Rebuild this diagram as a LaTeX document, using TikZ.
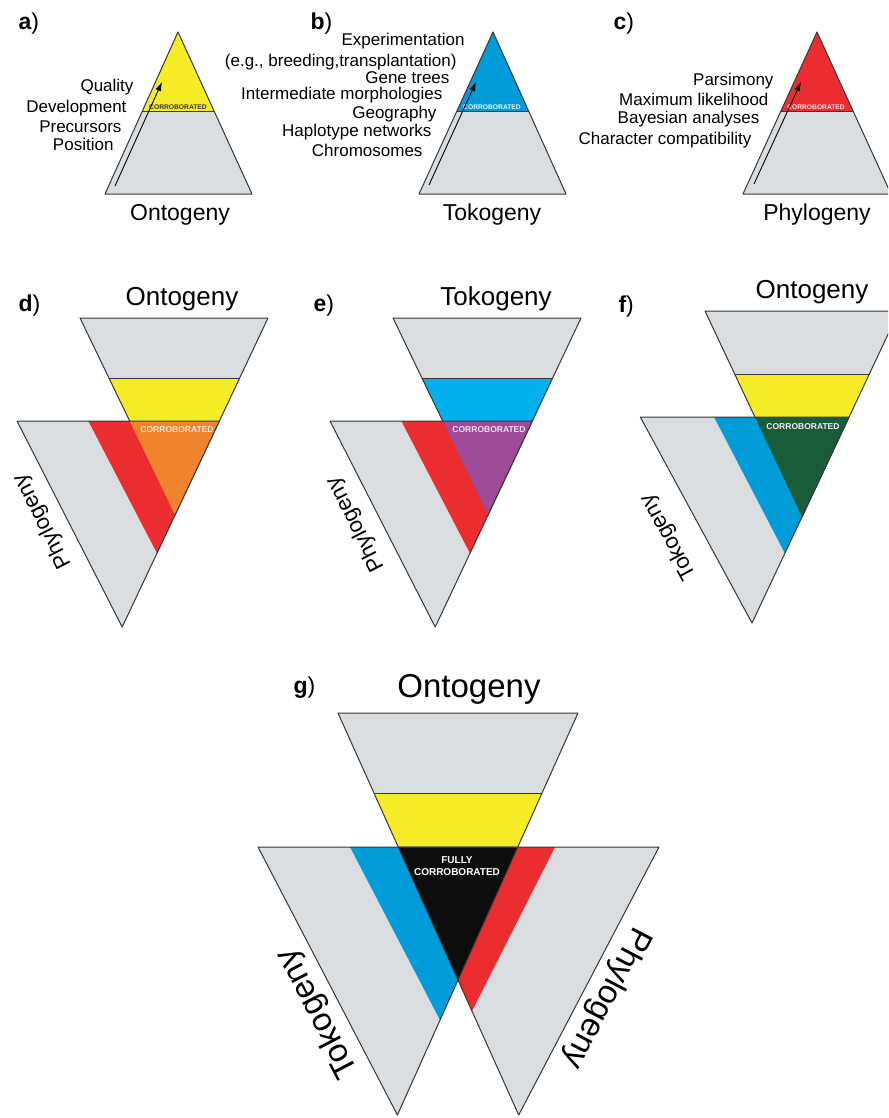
\documentclass[tikz,border=0pt]{standalone}
\usepackage{fontspec}
\setmainfont{Liberation Sans}
\usetikzlibrary{arrows.meta}

\definecolor{trigray}{RGB}{218,221,224}
\definecolor{ontoyellow}{RGB}{246,236,38}
\definecolor{tokoblue}{RGB}{0,156,218}
\definecolor{tokocyan}{RGB}{0,176,236}
\definecolor{phylored}{RGB}{236,45,47}
\definecolor{mixorange}{RGB}{240,132,46}
\definecolor{mixpurple}{RGB}{158,74,150}
\definecolor{mixgreen}{RGB}{24,92,58}
\definecolor{edgegray}{RGB}{55,55,55}

\begin{document}
\begin{tikzpicture}[x=1pt,y=-1pt,
  edge/.style={draw=edgegray,line width=1pt,line join=round},
  arr/.style={-{Latex[length=9pt,width=6pt]},line width=0.9pt,black},
  tag/.style={anchor=base west,font=\fontsize{23}{26}\selectfont},
  list/.style={anchor=base east,font=\fontsize{17}{20}\selectfont},
  toptitle/.style={anchor=base,font=\fontsize{23}{26}\selectfont},
  midtitle/.style={anchor=base,font=\fontsize{26}{30}\selectfont},
  bigtitle/.style={font=\fontsize{33}{36}\selectfont},
  corr/.style={font=\bfseries\fontsize{6.7}{8}\selectfont},
  midcorr/.style={font=\bfseries\fontsize{8.5}{10}\selectfont}]
\useasboundingbox (0,0) rectangle (888,1118);
\clip (0,0) rectangle (888,1118);

% a) ontogeny
\node[tag] (taga) at (15,30) {\textbf{a})};
\fill[trigray] (178,32) -- (252,194) -- (105,194) -- cycle;
\fill[ontoyellow] (178,32) -- (214.5,112) -- (142,112) -- cycle;
\draw[edge] (178,32) -- (252,194) -- (105,194) -- cycle;
\draw[edge] (142,112) -- (214.5,112);
\node[corr,text=black!80] (cora) at (178,107) {CORROBORATED};
\coordinate (arra0) at (115,186);
\coordinate (arra1) at (162,82);
\draw[arr] (arra0) -- (arra1);
\node[list] (qual) at (137,92) {Quality};
\node[list] (devel) at (130,113) {Development};
\node[list] (precur) at (125,133) {Precursors};
\node[list] (posit) at (117,151) {Position};
\node[toptitle] (onta) at (180,220) {Ontogeny};

% b) tokogeny
\node[tag] (tagb) at (307,30) {\textbf{b})};
\fill[trigray] (493,32) -- (566,194) -- (419,194) -- cycle;
\fill[tokoblue] (493,32) -- (529,112) -- (456.5,112) -- cycle;
\draw[edge] (493,32) -- (566,194) -- (419,194) -- cycle;
\draw[edge] (456.5,112) -- (529,112);
\node[corr,text=white!90!tokoblue] (corb) at (492,107) {CORROBORATED};
\coordinate (arrb0) at (429,185);
\coordinate (arrb1) at (476,82);
\draw[arr] (arrb0) -- (arrb1);
\node[list] (exper) at (468,46) {Experimentation};
\node[list] (breed) at (460,67) {(e.g., breeding,transplantation)};
\node[list] (genet) at (453,84) {Gene trees};
\node[list] (inter) at (446,100) {Intermediate morphologies};
\node[list] (geog) at (440,119) {Geography};
\node[list] (haplo) at (435,137) {Haplotype networks};
\node[list] (chrom) at (426,157) {Chromosomes};
\node[toptitle] (tokb) at (492,220) {Tokogeny};

% c) phylogeny
\node[tag] (tagc) at (610,30) {\textbf{c})};
\fill[trigray] (817,32) -- (891,194) -- (743,194) -- cycle;
\fill[phylored] (817,32) -- (853.5,112) -- (780.5,112) -- cycle;
\draw[edge] (817,32) -- (891,194) -- (743,194) -- cycle;
\draw[edge] (780.5,112) -- (853.5,112);
\node[corr,text=white!85!phylored] (corc) at (816,107) {CORROBORATED};
\coordinate (arrc0) at (754,184);
\coordinate (arrc1) at (801,82);
\draw[arr] (arrc0) -- (arrc1);
\node[list] (parsi) at (777,86) {Parsimony};
\node[list] (maxli) at (772,106) {Maximum likelihood};
\node[list] (bayes) at (763,124) {Bayesian analyses};
\node[list] (chara) at (755,145) {Character compatibility};
\node[toptitle] (phyc) at (817,220) {Phylogeny};

% d) ontogeny + phylogeny
\node[tag] (tagd) at (15,311) {\textbf{d})};
\node[midtitle] (ontd) at (182,305) {Ontogeny};
\fill[trigray] (80,318) -- (268,318) -- (175,515) -- cycle;
\fill[ontoyellow] (108.9,378) -- (239.7,378) -- (175,515) -- cycle;
\draw[edge] (80,318) -- (268,318) -- (175,515) -- cycle;
\draw[edge] (108.9,378) -- (239.7,378);
\fill[trigray] (17,421) -- (219.4,421) -- (122.2,627) -- cycle;
\fill[phylored] (88.3,421) -- (219.4,421) -- (157,553.3) -- cycle;
\fill[mixorange] (129.7,421) -- (219.4,421) -- (175,515) -- cycle;
\draw[edge] (17,421) -- (219.4,421) -- (122.2,627) -- cycle;
\node[midcorr,text=white!80!mixorange] (cord) at (177,430) {CORROBORATED};
\node[rotate=117,font=\fontsize{22}{24}\selectfont] (phyd) at (43,521) {Phylogeny};

% e) tokogeny + phylogeny
\node[tag] (tage) at (310,311) {\textbf{e})};
\node[midtitle] (toke) at (496,305) {Tokogeny};
\begin{scope}[xshift=313pt]
\fill[trigray] (80,318) -- (268,318) -- (175,515) -- cycle;
\fill[tokocyan] (108.9,378) -- (239.7,378) -- (175,515) -- cycle;
\draw[edge] (80,318) -- (268,318) -- (175,515) -- cycle;
\draw[edge] (108.9,378) -- (239.7,378);
\fill[trigray] (17,421) -- (219.4,421) -- (122.2,627) -- cycle;
\fill[phylored] (88.3,421) -- (219.4,421) -- (157,553.3) -- cycle;
\fill[mixpurple] (129.7,421) -- (219.4,421) -- (175,515) -- cycle;
\draw[edge] (17,421) -- (219.4,421) -- (122.2,627) -- cycle;
\end{scope}
\node[midcorr,text=white!85!mixpurple] (core) at (489,430) {CORROBORATED};
\node[rotate=117,font=\fontsize{22}{24}\selectfont] (phye) at (356,524) {Phylogeny};

% f) ontogeny + tokogeny
\node[tag] (tagf) at (615,312) {\textbf{f})};
\node[midtitle] (ontf) at (812,298) {Ontogeny};
\fill[trigray] (705,311) -- (899,311) -- (802,517) -- cycle;
\fill[ontoyellow] (734.7,374) -- (869.3,374) -- (802,517) -- cycle;
\draw[edge] (705,311) -- (899,311) -- (802,517) -- cycle;
\draw[edge] (734.7,374) -- (869.3,374);
\fill[trigray] (640.3,417) -- (849.1,417) -- (752,623) -- cycle;
\fill[tokoblue] (714,417) -- (849.1,417) -- (784.9,553.3) -- cycle;
\fill[mixgreen] (754.9,417) -- (849.1,417) -- (802,517) -- cycle;
\draw[edge] (640.3,417) -- (849.1,417) -- (752,623) -- cycle;
\node[midcorr,text=white!92!mixgreen] (corf) at (803,427) {CORROBORATED};
\node[rotate=118.5,font=\fontsize{22}{24}\selectfont] (tokf) at (669,537) {Tokogeny};

% g) all three
\node[tag] (tagg) at (290,693) {\textbf{g})};
\node[bigtitle,anchor=base] (ontg) at (469,697) {Ontogeny};
\fill[trigray] (338,713) -- (578,713) -- (458,980) -- cycle;
\fill[ontoyellow] (374,793) -- (542,793) -- (458,980) -- cycle;
\draw[edge] (338,713) -- (578,713) -- (458,980) -- cycle;
\draw[edge] (374,793) -- (542,793);
\fill[trigray] (258,847) -- (517.8,847) -- (397.4,1115) -- cycle;
\fill[tokoblue] (350,847) -- (517.8,847) -- (440,1020) -- cycle;
\fill[trigray] (398.2,847) -- (659,847) -- (518.7,1115) -- cycle;
\fill[phylored] (398.2,847) -- (555,847) -- (472,1011) -- cycle;
\fill[black!95] (398.2,847) -- (517.8,847) -- (458,980) -- cycle;
\draw[edge] (258,847) -- (517.8,847) -- (397.4,1115) -- cycle;
\draw[edge] (398.2,847) -- (659,847) -- (518.7,1115) -- cycle;
\node[font=\bfseries\fontsize{10}{12}\selectfont,text=white,align=center] (corg) at (457,866) {FULLY\\CORROBORATED};
\node[bigtitle,rotate=117.5] (tokg) at (318,1013) {Tokogeny};
\node[bigtitle,rotate=-117.5] (phyg) at (606,998) {Phylogeny};
\end{tikzpicture}
\end{document}
